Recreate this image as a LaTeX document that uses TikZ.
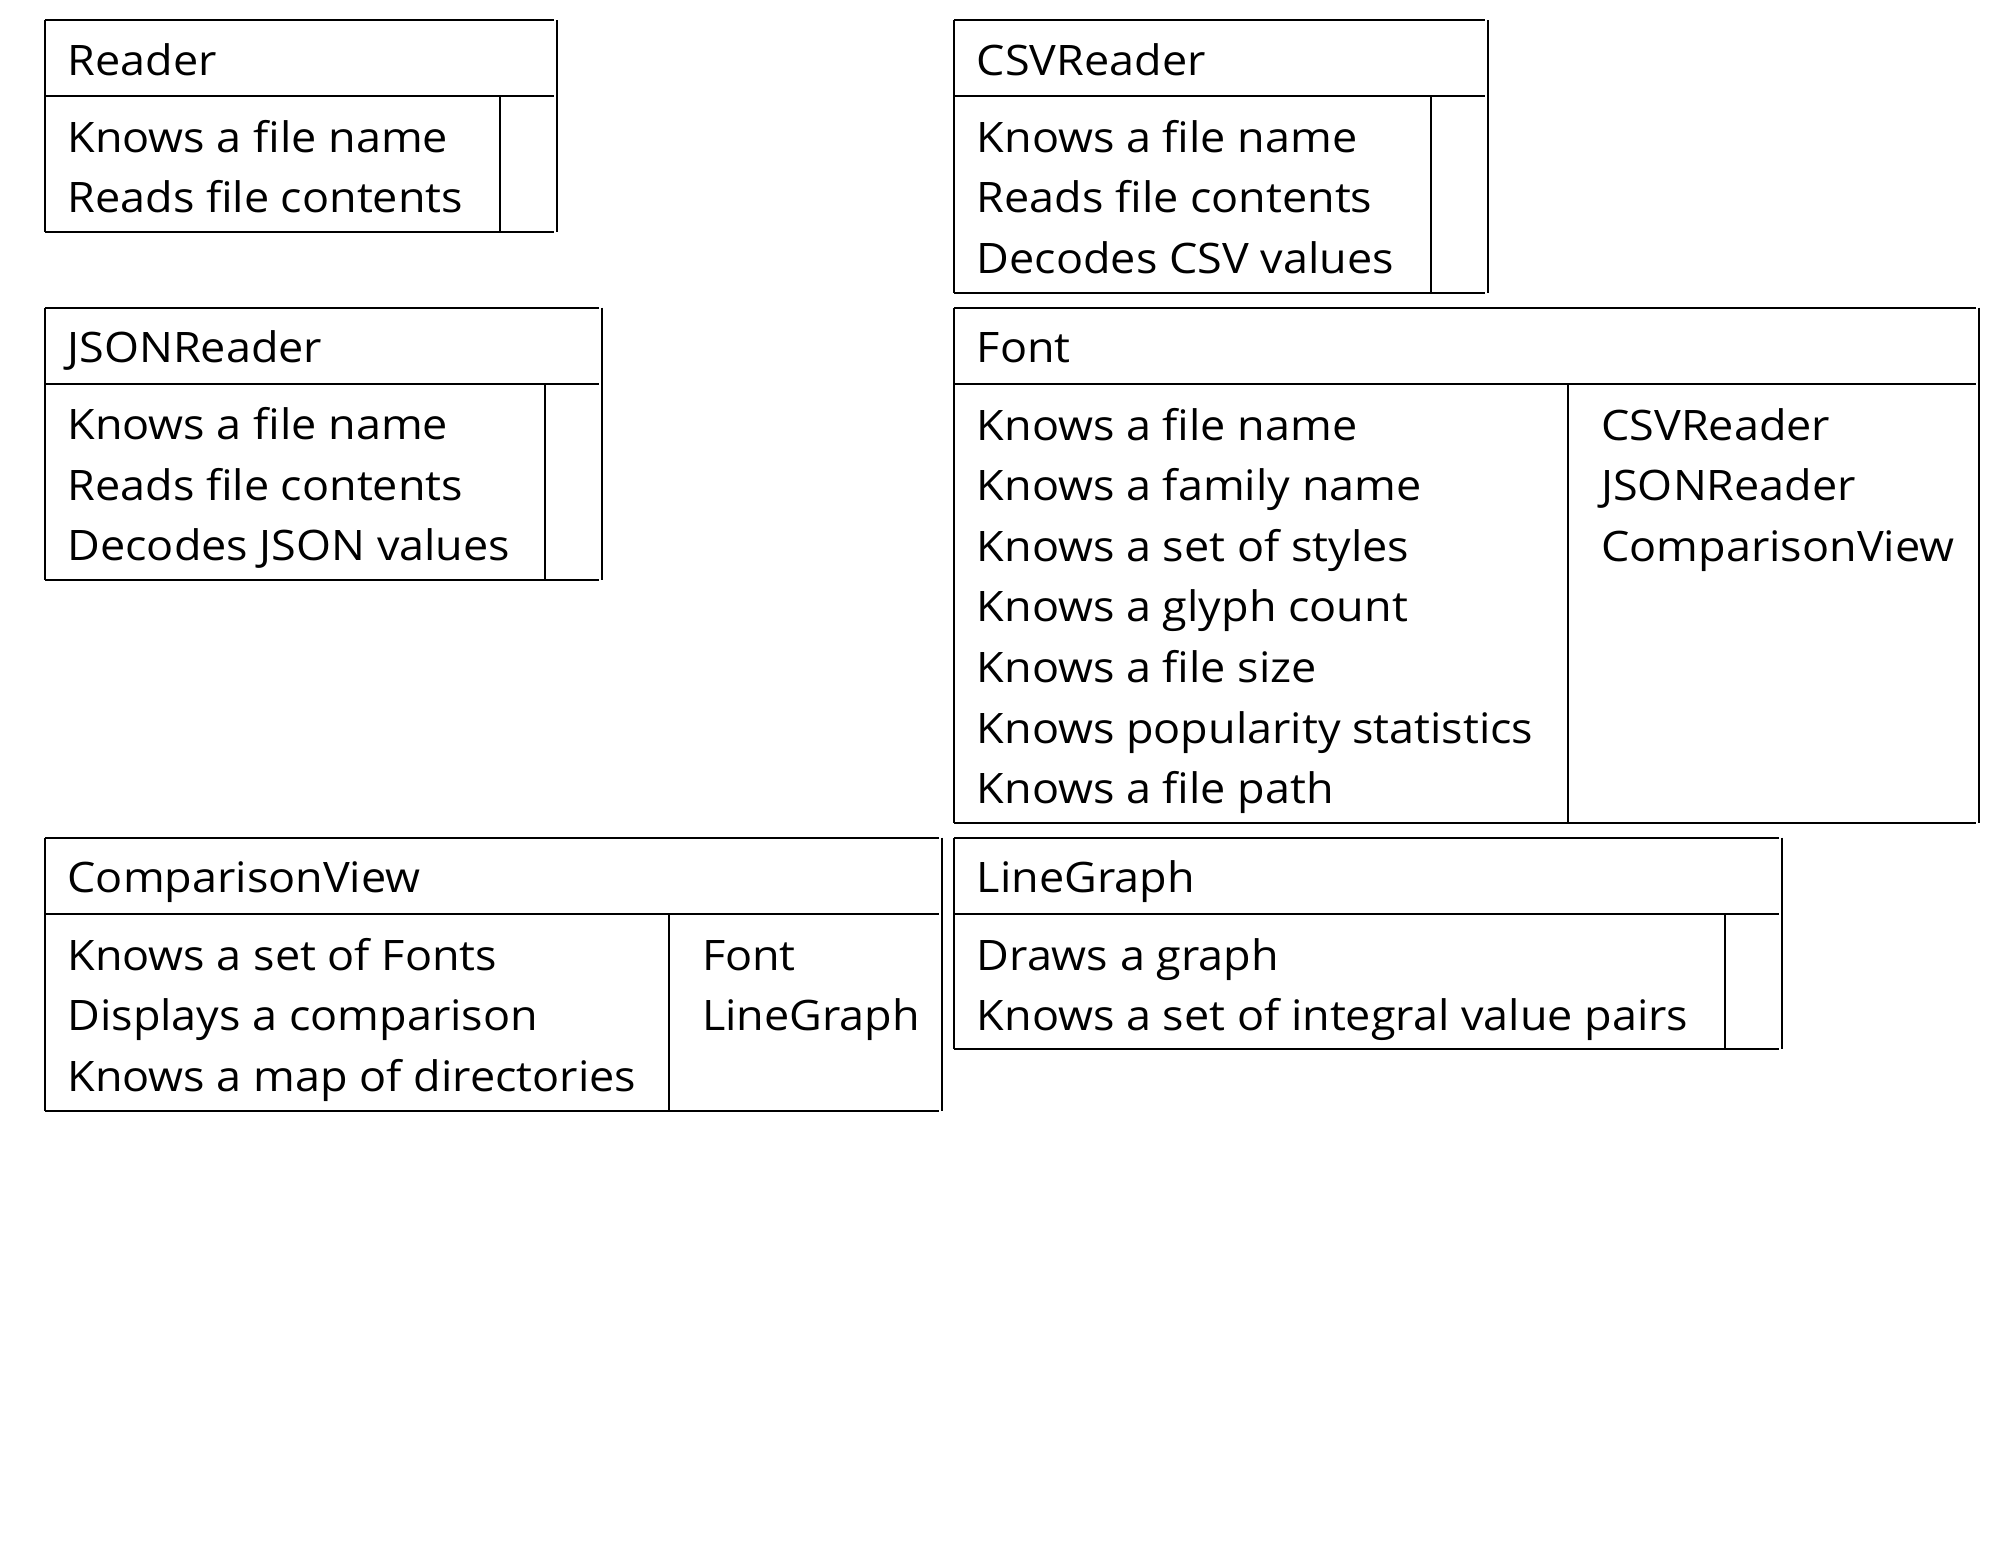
\documentclass[tikz,border=0pt]{standalone}
\usepackage{fontspec}
\setmainfont{Open Sans}[FakeStretch=1.07]
\newcommand\crcbox[6]{% L, T, H, B, D, R
  \draw[boxline] (#1,#2) -- (#6-3,#2) (#1,#3) -- (#6-3,#3) (#1,#4) -- (#6-3,#4)
    (#1,#2) -- (#1,#4) (#6,#2) -- (#6,#4) (#5,#3) -- (#5,#4);
}
\begin{document}
\begin{tikzpicture}[x=1pt,y=-1pt,
  boxline/.style={line width=2pt,black},
  txt/.style={anchor=base west,inner sep=0pt,outer sep=0pt,font=\fontsize{42}{50}\selectfont}]
\useasboundingbox (0,0) rectangle (1999,1545);
\fill[white] (0,0) rectangle (1999,1545);
% Reader
\crcbox{45}{20}{96}{231.7}{500}{556.7}
\node[txt] (rd-t) at (67.5,75) {Reader};
\node[txt] (rd-1) at (67.5,152) {Knows a file name};
\node[txt] (rd-2) at (67.5,212.6) {Reads file contents};
% CSVReader
\crcbox{954.3}{20}{96}{292.7}{1430.7}{1487.7}
\node[txt] (csv-t) at (976.8,75) {CSVReader};
\node[txt] (csv-1) at (976.8,152) {Knows a file name};
\node[txt] (csv-2) at (976.8,212.6) {Reads file contents};
\node[txt] (csv-3) at (976.8,273.2) {Decodes CSV values};
% JSONReader
\crcbox{45}{307.7}{383.7}{580.3}{545.3}{602}
\node[txt] (js-t) at (67.5,362.7) {JSONReader};
\node[txt] (js-1) at (67.5,439.7) {Knows a file name};
\node[txt] (js-2) at (67.5,500.3) {Reads file contents};
\node[txt] (js-3) at (67.5,560.9) {Decodes JSON values};
% Font
\crcbox{954.3}{307.7}{384}{822.7}{1568.3}{1979}
\node[txt] (fn-t) at (976.8,362.7) {Font};
\node[txt] (fn-1) at (976.8,440) {Knows a file name};
\node[txt] (fn-2) at (976.8,500.6) {Knows a family name};
\node[txt] (fn-3) at (976.8,561.2) {Knows a set of styles};
\node[txt] (fn-4) at (976.8,621.8) {Knows a glyph count};
\node[txt] (fn-5) at (976.8,682.4) {Knows a file size};
\node[txt] (fn-6) at (976.8,743) {Knows popularity statistics};
\node[txt] (fn-7) at (976.8,803.6) {Knows a file path};
\node[txt] (fn-r1) at (1601.3,440) {CSVReader};
\node[txt] (fn-r2) at (1601.3,500.6) {JSONReader};
\node[txt] (fn-r3) at (1601.3,561.2) {ComparisonView};
% ComparisonView
\crcbox{45}{837.7}{914}{1110.7}{669.3}{941.7}
\node[txt] (cv-t) at (67.5,892.7) {ComparisonView};
\node[txt] (cv-1) at (67.5,970) {Knows a set of Fonts};
\node[txt] (cv-2) at (67.5,1030.6) {Displays a comparison};
\node[txt] (cv-3) at (67.5,1091.2) {Knows a map of directories};
\node[txt] (cv-r1) at (702,970) {Font};
\node[txt] (cv-r2) at (702,1030.6) {LineGraph};
% LineGraph
\crcbox{954.3}{837.7}{914}{1049.3}{1725}{1781.7}
\node[txt] (lg-t) at (976.8,892.7) {LineGraph};
\node[txt] (lg-1) at (976.8,970) {Draws a graph};
\node[txt] (lg-2) at (976.8,1030.6) {Knows a set of integral value pairs};
\end{tikzpicture}
\end{document}
